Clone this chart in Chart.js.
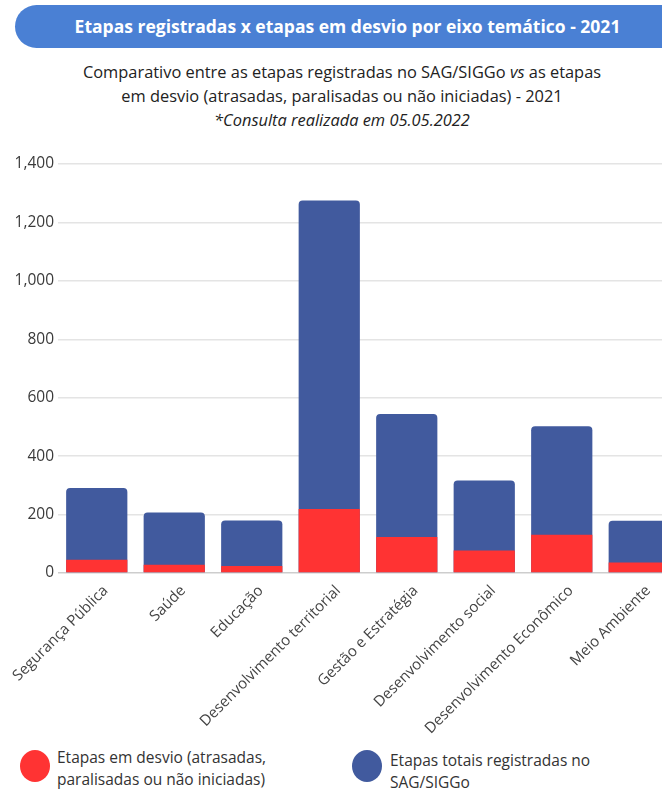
<!DOCTYPE html>
<html>
<head>
<meta charset="utf-8">
<script src="https://cdn.jsdelivr.net/npm/chart.js@4.4.1/dist/chart.umd.min.js"></script>
<style>
    html, body { margin: 0; padding: 0; background: #fff; overflow: hidden; width: 662px; height: 789px; }
    body { position: relative; font-family: "Open Sans", "Noto Sans", sans-serif; color: #222; }
    #banner {
        position: absolute; left: 15px; top: 5px; width: 665px; height: 43px;
        background: #4a80d4; border-radius: 22px 0 0 22px;
        color: #fff; font-weight: bold; font-size: 17.5px; line-height: 43px; text-align: center;
    }
    #sub {
        position: absolute; left: 0; top: 60px; width: 684px; text-align: center;
        font-size: 16.4px; line-height: 24px; color: #222;
    }
    #wrap { position: absolute; left: 0; top: 140px; }
    .leg { position: absolute; font-size: 15.5px; line-height: 22px; color: #333; }
    .dot { position: absolute; width: 30px; height: 32px; border-radius: 50%; }
</style>
</head>
<body>
<div id="banner">Etapas registradas x etapas em desvio por eixo temático - 2021</div>
<div id="sub">Comparativo entre as etapas registradas no SAG/SIGGo <i>vs</i> as etapas<br>em desvio (atrasadas, paralisadas ou não iniciadas) - 2021<br><i>*Consulta realizada em 05.05.2022</i></div>
<div id="wrap"><canvas id="graph" width="700" height="603"></canvas></div>
<div id="legend"></div>
<script>
const red =  'rgb(255, 51, 51)'
const blue = 'rgb(65, 90, 158)'

// eixos temáticos
const categorias = ['Segurança Pública', 'Saúde', 'Educação', 'Desenvolvimento territorial',
    'Gestão e Estratégia', 'Desenvolvimento social', 'Desenvolvimento Econômico', 'Meio Ambiente']
// etapas em desvio (atrasadas, paralisadas ou não iniciadas)
const emDesvio = [45, 28, 24, 219, 123, 77, 131, 36]
// etapas totais registradas no SAG/SIGGo
const totais = [291, 207, 180, 1275, 544, 317, 502, 179]
const yTicks = [0, 200, 400, 600, 800, 1000, 1200, 1400]

const legendTexts = ['Etapas em desvio (atrasadas,<br>paralisadas ou não iniciadas)',
    'Etapas totais registradas no<br>SAG/SIGGo']

const ctx = document.getElementById('graph')
const myChart = new Chart(ctx, {
    type: 'bar',
    data: {
        labels: categorias,
        datasets: [
            {//em desvio, drawn on top
                label: 'Etapas em desvio',
                data: emDesvio,
                backgroundColor: red,
                grouped: false,
                categoryPercentage: 1,
                barPercentage: 0.79
            },
            {//totais
                label: 'Etapas totais',
                data: totais,
                backgroundColor: blue,
                grouped: false,
                borderRadius: {topLeft: 4, topRight: 4},
                categoryPercentage: 1,
                barPercentage: 0.79
            }
        ]
    },
    options: {
        responsive: false,
        animation: false,
        locale: 'en-US',
        layout: { padding: {top: 24, right: 22, left: 0, bottom: 0} },
        plugins: { legend: {display: false}, tooltip: {enabled: false} },
        scales: {
            x: {
                grid: {display: false, drawTicks: false},
                border: {display: false},
                ticks: {
                    minRotation: 45, maxRotation: 45, autoSkip: false, padding: 9, labelOffset: 9,
                    color: '#444', font: {family: 'Open Sans', size: 15}
                },
                afterFit: (scale) => {
                    scale.height = 170
                    //keep the plot area where the reference has it
                    scale.paddingLeft = 0
                    scale.paddingRight = 0
                }
            },
            y: {
                min: 0, max: 1400,
                afterBuildTicks: (scale) => { scale.ticks = yTicks.map(v => ({value: v})) },
                grid: {
                    drawTicks: false,
                    lineWidth: 1.5,
                    color: (c) => c.tick && c.tick.value === 0 ? 'rgb(205, 205, 205)' : 'rgb(228, 228, 228)'
                },
                border: {display: false},
                ticks: { padding: 4, color: '#3a3a3a', font: {family: 'Open Sans', size: 15.5} },
                afterFit: (scale) => { scale.width = 58 }
            }
        }
    }
})

// legenda em html, cores a partir dos datasets
const legend = document.getElementById('legend')
const legPos = [[20, 57], [352, 390]]
myChart.data.datasets.forEach((ds, i) => {
    const dot = document.createElement('div')
    dot.className = 'dot'
    dot.style.left = legPos[i][0] + 'px'
    dot.style.top = '750px'
    dot.style.background = ds.backgroundColor
    legend.appendChild(dot)
    const t = document.createElement('div')
    t.className = 'leg'
    t.style.left = legPos[i][1] + 'px'
    t.style.top = (i === 0 ? 746 : 749) + 'px'
    t.innerHTML = legendTexts[i]
    legend.appendChild(t)
})
</script>
</body>
</html>
